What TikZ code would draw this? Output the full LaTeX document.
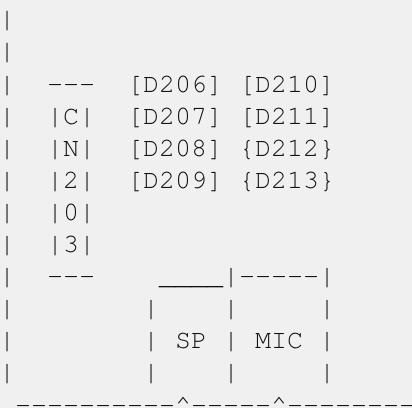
\documentclass[tikz,border=0pt]{standalone}
\usepackage{fontspec}
\setmonofont{TeX Gyre Cursor}
\usepackage{xcolor}
\usepackage{tikz}
\definecolor{paper}{HTML}{F0F0F0}
\definecolor{ink}{HTML}{111111}
\newcommand{\asciifont}{\ttfamily\fontsize{26.67}{32.1}\selectfont}
\begin{document}
\begin{tikzpicture}[x=1pt,y=-1pt,
  txt/.style={anchor=base west,inner sep=0pt,outer sep=0pt,font=\asciifont,text=ink}]
\fill[paper](0,0)rectangle(412,408);
\useasboundingbox(0,0)rectangle(412,408);
\begin{scope}[shift={(-1,27.8)},x=16pt,y=-32.1pt]
% left edge
\foreach \r in {0,...,11}
  \node[txt](edge\r) at (0,\r){|};
% CN203 connector
\node[txt](cntop) at (3,2){---};
\node[txt](cnc) at (3,3){|C|};
\node[txt](cnn) at (3,4){|N|};
\node[txt](cntwo) at (3,5){|2|};
\node[txt](cnzero) at (3,6){|0|};
\node[txt](cnthree) at (3,7){|3|};
\node[txt](cnbot) at (3,8){---};
% diodes
\node[txt](dA) at (8,2){[D206]};
\node[txt](dB) at (8,3){[D207]};
\node[txt](dC) at (8,4){[D208]};
\node[txt](dD) at (8,5){[D209]};
\node[txt](dE) at (15,2){[D210]};
\node[txt](dF) at (15,3){[D211]};
\node[txt](dG) at (15,4){\{D212\}};
\node[txt](dH) at (15,5){\{D213\}};
% SP / MIC boxes
\node[txt](boxtop) at (10,8){\_\_\_\_|-----|};
\foreach \r in {9,10,11}{
  \node[txt](spl\r) at (9,\r){|};
  \node[txt](mid\r) at (14,\r){|};
  \node[txt](micr\r) at (20,\r){|};
}
\node[txt](sp) at (11,10){SP};
\node[txt](mic) at (16,10){MIC};
% bottom edge
\node[txt](bottom) at (1,12){----------\textasciicircum-----\textasciicircum--------};
\end{scope}
\end{tikzpicture}
\end{document}
